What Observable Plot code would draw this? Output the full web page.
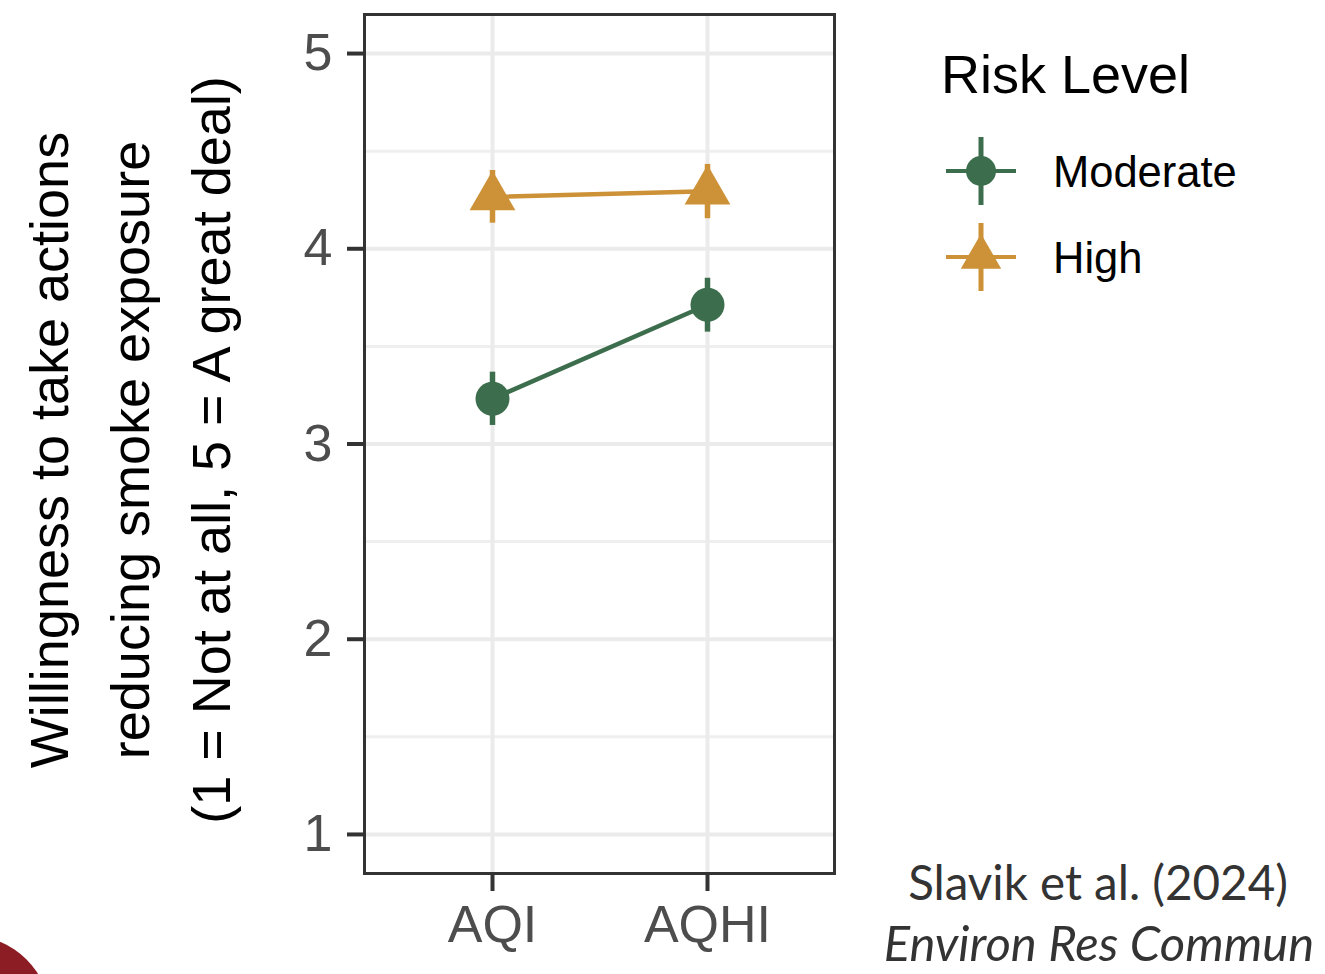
<!DOCTYPE html>
<html><head><meta charset="utf-8">
<script src="https://cdn.jsdelivr.net/npm/d3@7"></script>
<script src="https://cdn.jsdelivr.net/npm/@observablehq/plot@0.6"></script>
<style>
html,body{margin:0;padding:0;background:#fff;width:1325px;height:974px;overflow:hidden;position:relative;font-family:"Liberation Sans",Arial,Helvetica,sans-serif}
#chart{position:absolute;left:0;top:0}
#overlay{position:absolute;left:0;top:0}
#corner{position:absolute;left:-110px;top:936px;width:160px;height:160px;border-radius:50%;background:#8c1d24}
</style></head><body>
<div id="chart"></div>
<svg id="overlay" width="1325" height="974"></svg>
<div id="corner"></div>
<script>
// ---- data ----
const measures = ["AQI", "AQHI"];
const riskLevels = ["Moderate", "High"];
const moderateMean = [3.232, 3.713];
const moderateLow = [3.095, 3.573];
const moderateHigh = [3.368, 3.849];
const highMean = [4.265, 4.295];
const highLow = [4.131, 4.154];
const highHigh = [4.401, 4.432];
const yTicks = [1, 2, 3, 4, 5];
const yMinorTicks = [1.5, 2.5, 3.5, 4.5];
const seriesColors = ["#3c6e4e", "#cd9237"];
const seriesSymbols = ["circle", "triangle"];
const yTitleLines = ["Willingness to take actions", "reducing smoke exposure", "(1 = Not at all, 5 = A great deal)"];
const legendTitle = "Risk Level";
const captionLines = ["Slavik et al. (2024)", "Environ Res Commun"];

// ---- table ----
const series = {
  Moderate: {mean: moderateMean, low: moderateLow, high: moderateHigh},
  High: {mean: highMean, low: highLow, high: highHigh}
};
const rows = [];
for (const risk of riskLevels) {
  measures.forEach((m, i) => rows.push({measure: m, risk, mean: series[risk].mean[i], low: series[risk].low[i], high: series[risk].high[i]}));
}

const chart = Plot.plot({
  width: 900, height: 974,
  marginLeft: 364, marginRight: 66, marginTop: 14, marginBottom: 101,
  style: {fontFamily: "'Liberation Sans', Arial, sans-serif", background: "transparent", overflow: "visible"},
  x: {type: "point", domain: measures, padding: 0.59, label: null},
  y: {domain: [0.8, 5.2], label: null},
  color: {domain: riskLevels, range: seriesColors},
  symbol: {domain: riskLevels, range: seriesSymbols},
  marks: [
    Plot.ruleY(yMinorTicks, {stroke: "#efefef", strokeWidth: 3}),
    Plot.ruleY(yTicks, {stroke: "#ebebeb", strokeWidth: 4}),
    Plot.ruleX(measures, {stroke: "#ebebeb", strokeWidth: 4}),
    Plot.frame({stroke: "#333", strokeWidth: 3}),
    Plot.axisY({ticks: yTicks, tickFormat: d => String(d), tickSize: 17, tickPadding: 15, fontSize: 52, fill: "#4d4d4d", stroke: "#333", strokeWidth: 4, label: null}),
    Plot.axisX({tickSize: 18, tickPadding: 14, fontSize: 52, fill: "#4d4d4d", stroke: "#333", strokeWidth: 4, label: null}),
    Plot.line(rows, {x: "measure", y: "mean", stroke: "risk", z: "risk", strokeWidth: 4.5}),
    Plot.ruleX(rows, {x: "measure", y1: "low", y2: "high", stroke: "risk", strokeWidth: 5.5}),
    Plot.dot(rows, {x: "measure", y: "mean", fill: "risk", symbol: "risk", r: 17}),
    Plot.text([yTitleLines.join("\n")], {text: d => d, frameAnchor: "left", rotate: -90, textAnchor: "middle", fontSize: 54, lineHeight: 1.5, dx: -241, dy: 6, fill: "black"})
  ]
});
document.getElementById("chart").appendChild(chart);

// ---- legend & caption ----
const svg = d3.select("#overlay");
svg.append("text").attr("x", 941).attr("y", 93).attr("font-size", 54).attr("fill", "black").text(legendTitle);
riskLevels.forEach((risk, i) => {
  const cy = 171 + i * 86, cx = 981;
  const g = svg.append("g").attr("transform", `translate(${cx},${cy})`);
  g.append("line").attr("x1", -35).attr("x2", 35).attr("stroke", seriesColors[i]).attr("stroke-width", 4);
  g.append("line").attr("y1", -34).attr("y2", 34).attr("stroke", seriesColors[i]).attr("stroke-width", 5);
  const sym = seriesSymbols[i] === "circle" ? d3.symbolCircle : d3.symbolTriangle;
  g.append("path").attr("d", d3.symbol(sym, Math.PI * 15 * 15)()).attr("fill", seriesColors[i]);
  svg.append("text").attr("x", 1053).attr("y", cy + 16).attr("font-size", 43.5).attr("fill", "black").text(risk);
});
svg.append("text").attr("x", 1098).attr("y", 900).attr("text-anchor", "middle").attr("font-family", "Lato, sans-serif").attr("font-size", 47.5).attr("fill", "#333").text(captionLines[0]);
svg.append("text").attr("x", 1099).attr("y", 961).attr("text-anchor", "middle").attr("font-family", "Lato, sans-serif").attr("font-style", "italic").attr("font-size", 49).attr("fill", "#333").text(captionLines[1]);
</script>
</body></html>
